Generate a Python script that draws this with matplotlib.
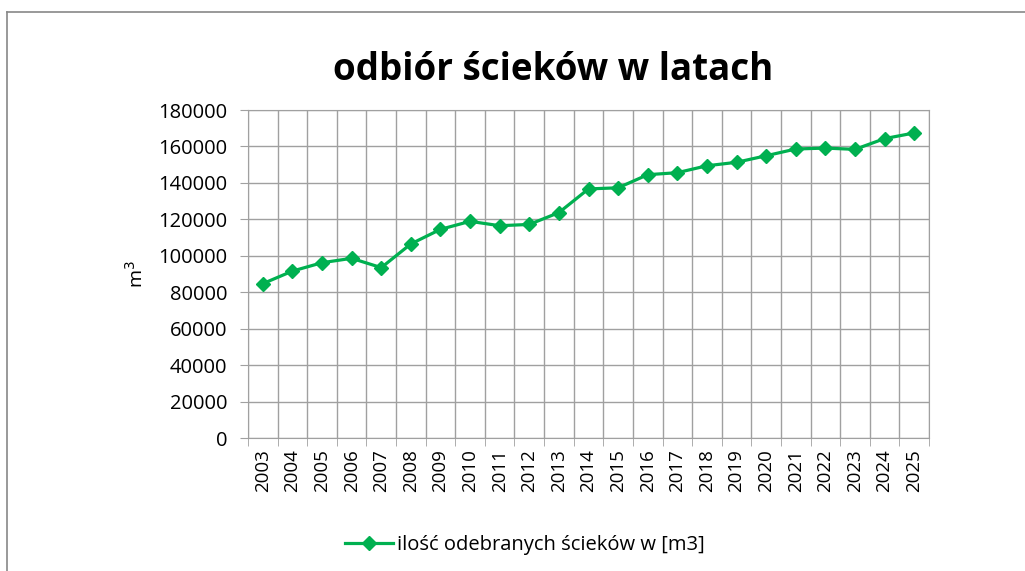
import matplotlib.pyplot as plt
from matplotlib.lines import Line2D

# odbiór ścieków w latach
lata = [str(r) for r in range(2003, 2026)]
scieki = [84700, 91600, 96200, 98600, 93500, 106500, 114500, 118900, 116500, 117200,
          123700, 136700, 137300, 144500, 145600, 149400, 151300, 154900, 158600,
          159100, 158400, 164300, 167400]
y_ticks = list(range(0, 180001, 20000))

plt.rcParams['font.family'] = ['Open Sans', 'DejaVu Sans']

fig = plt.figure(figsize=(10.25, 5.71), dpi=100)
ax = fig.add_axes([248 / 1025, 1 - 438 / 571, (929 - 248) / 1025, (438 - 110) / 571])

x = list(range(len(lata)))
ax.plot(x, scieki, "-", color="#00b050", lw=2.3, marker="D", ms=7,
        label="ilość odebranych ścieków w [m3]")

ax.set_xlim(-0.5, len(lata) - 0.5)
ax.set_ylim(0, 180000)
ax.set_yticks(y_ticks)
ax.set_yticklabels([str(v) for v in y_ticks], fontsize=14.5)
ax.set_xticks(x)
ax.set_xticklabels(lata, rotation=90, fontsize=13.5)
ax.tick_params(axis="x", length=0, pad=8)
ax.tick_params(axis="y", length=6, color="#a0a0a0", pad=9)

# siatka pionowa na granicach kategorii
ax.set_xticks([i - 0.5 for i in range(len(lata) + 1)], minor=True)
ax.tick_params(axis="x", which="minor", length=6, color="#a0a0a0")
ax.grid(True, which="minor", axis="x", color="#a0a0a0", lw=1)
ax.grid(True, which="major", axis="y", color="#a0a0a0", lw=1)
ax.set_axisbelow(True)
for s in ax.spines.values():
    s.set_color("#a0a0a0")

ax.set_ylabel("m$^3$", fontsize=14, labelpad=8)

fig.text(0.54, 1 - 70 / 571, "odbiór ścieków w latach", ha="center", va="center",
         fontsize=26.5, fontweight="bold")

fig.legend(loc="center", bbox_to_anchor=(0.512, 1 - 545 / 571), frameon=False,
           fontsize=14.5, handlelength=2.4, handletextpad=0.2)

# ramka wykresu
fig.add_artist(Line2D([7 / 1025, 7 / 1025], [0, 1 - 12 / 571], color="#888888", lw=1.2))
fig.add_artist(Line2D([7 / 1025, 1], [1 - 12 / 571, 1 - 12 / 571], color="#888888", lw=1.2))

fig.savefig("out.png", dpi=100)
